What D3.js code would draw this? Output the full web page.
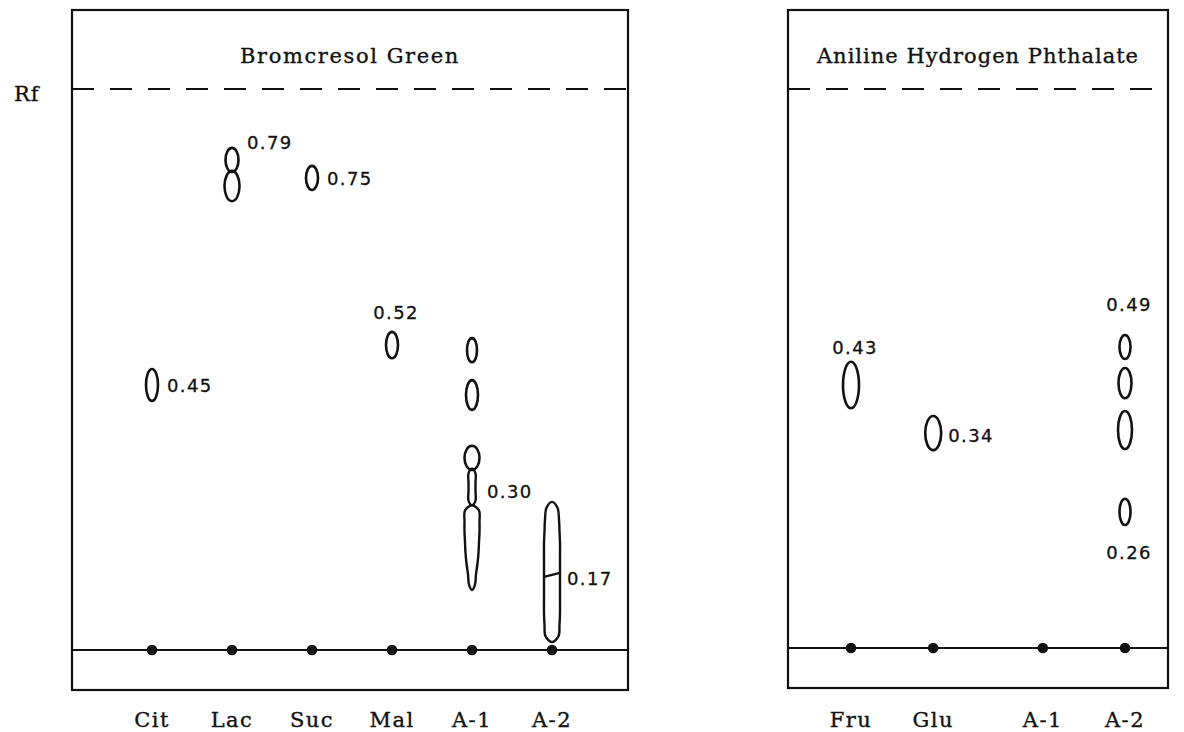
<!DOCTYPE html>
<html>
<head>
<meta charset="utf-8">
<script src="https://cdn.jsdelivr.net/npm/d3@7"></script>
<style>
  body { margin: 0; background: #fff; }
  .title, .lane, .rf-axis { font-family: "DejaVu Serif", serif; fill: #111; stroke: #111; stroke-width: 0.35px; }
  .num { font-family: "DejaVu Sans", sans-serif; fill: #111; stroke: #111; stroke-width: 0.3px; }
</style>
</head>
<body>
<div id="chart"></div>
<script>
// lanes on each plate
const leftLanes = ["Cit", "Lac", "Suc", "Mal", "A-1", "A-2"];
const rightLanes = ["Fru", "Glu", "A-1", "A-2"];

// spots as drawn: lane, lower and upper Rf of the outline
const leftSpots = [
    {lane: "Cit", lo: 0.444, hi: 0.501},
    {lane: "Lac", lo: 0.852, hi: 0.895},
    {lane: "Lac", lo: 0.800, hi: 0.854},
    {lane: "Suc", lo: 0.820, hi: 0.863},
    {lane: "Mal", lo: 0.520, hi: 0.567},
    {lane: "A-1", lo: 0.513, hi: 0.556},
    {lane: "A-1", lo: 0.428, hi: 0.481},
    {lane: "A-1", lo: 0.321, hi: 0.364}
];
// elongated streaks (tails)
const leftStreaks = [
    {lane: "A-1", lo: 0.258, hi: 0.323, kind: "neck"},
    {lane: "A-1", lo: 0.107, hi: 0.258, kind: "taper"},
    {lane: "A-2", lo: 0.014, hi: 0.264, kind: "band"}
];
// boundaries drawn across a streak
const leftSplits = [
    {lane: "A-2", at: 0.134}
];
const leftLabels = [
    {lane: "Cit", text: "0.45", at: 0.472, side: "right"},
    {lane: "Lac", text: "0.79", at: 0.904, side: "right"},
    {lane: "Suc", text: "0.75", at: 0.841, side: "right"},
    {lane: "Mal", text: "0.52", at: 0.602, side: "above"},
    {lane: "A-1", text: "0.30", at: 0.282, side: "right"},
    {lane: "A-2", text: "0.17", at: 0.128, side: "right"}
];

const rightSpots = [
    {lane: "Fru", lo: 0.429, hi: 0.512},
    {lane: "Glu", lo: 0.354, hi: 0.415},
    {lane: "A-2", lo: 0.517, hi: 0.560},
    {lane: "A-2", lo: 0.447, hi: 0.501},
    {lane: "A-2", lo: 0.356, hi: 0.424},
    {lane: "A-2", lo: 0.220, hi: 0.267}
];
const rightLabels = [
    {lane: "Fru", text: "0.43", at: 0.538, side: "above"},
    {lane: "Glu", text: "0.34", at: 0.381, side: "right"},
    {lane: "A-2", text: "0.49", at: 0.614, side: "above"},
    {lane: "A-2", text: "0.26", at: 0.170, side: "below"}
];

// half widths of the drawn outlines (px), same order as the spot arrays
const leftSpotW = [6, 6.5, 7.5, 6, 6, 5, 6, 7.5];
const rightSpotW = [8, 8, 5.5, 6.5, 7, 5.5];
const streakProfile = {
    neck: [3.5, 3.5, 3.5, 3.5],
    taper: [7, 7.5, 7.5, 7, 6.5, 5.5, 4, 3],
    band: [5.5, 7, 7.5, 8, 8, 8, 8, 8, 8, 8, 7.5, 6.5]
};

const width = 1184, height = 732;
const svg = d3.select("#chart").append("svg")
    .attr("width", width)
    .attr("height", height);

const ink = "#111";

// closed hand-drawn looking outline from a half-width profile
const blob = d3.line().curve(d3.curveCatmullRomClosed.alpha(0.5));
function outline(cx, yTop, yBot, hw) {
    let pts = [[cx, yTop]];
    let n = hw.length;
    hw.forEach((w, i) => pts.push([cx + w, yTop + (yBot - yTop) * (i + 0.5) / n]));
    pts.push([cx, yBot]);
    for (let i = n - 1; i >= 0; i--) pts.push([cx - hw[i], yTop + (yBot - yTop) * (i + 0.5) / n]);
    return blob(pts);
}

function drawPlate(cfg) {
    let g = svg.append("g");
    let y = d3.scaleLinear().domain([0, 1]).range([cfg.origin, cfg.front]);
    let x = cfg.x;

    // plate frame
    g.append("rect")
        .attr("x", cfg.left).attr("y", cfg.top)
        .attr("width", cfg.right - cfg.left).attr("height", cfg.bottom - cfg.top)
        .attr("fill", "none").attr("stroke", ink).attr("stroke-width", 2.2);

    g.append("text").attr("class", "title")
        .attr("x", (cfg.left + cfg.right) / 2).attr("y", 63)
        .attr("text-anchor", "middle")
        .style("font-size", "21px").style("letter-spacing", cfg.titleSpacing)
        .text(cfg.title);

    // solvent front
    g.append("line")
        .attr("x1", cfg.left).attr("x2", cfg.right)
        .attr("y1", y(1)).attr("y2", y(1))
        .attr("stroke", ink).attr("stroke-width", 1.8)
        .attr("stroke-dasharray", "22 16");

    // origin line
    g.append("line")
        .attr("x1", cfg.left).attr("x2", cfg.right)
        .attr("y1", y(0)).attr("y2", y(0))
        .attr("stroke", ink).attr("stroke-width", 2.2);

    g.selectAll(".dot").data(cfg.lanes).join("circle")
        .attr("cx", d => x(d)).attr("cy", y(0)).attr("r", 5.3)
        .attr("fill", ink);

    g.selectAll(".lane").data(cfg.lanes).join("text")
        .attr("class", "lane")
        .attr("x", d => x(d)).attr("y", 727)
        .attr("text-anchor", "middle")
        .style("font-size", "21px").style("letter-spacing", "1.5px")
        .text(d => d);

    // spots
    g.selectAll(".spot").data(cfg.spots).join("ellipse")
        .attr("cx", d => x(d.lane))
        .attr("cy", d => (y(d.lo) + y(d.hi)) / 2)
        .attr("rx", (d, i) => cfg.spotW[i])
        .attr("ry", d => (y(d.lo) - y(d.hi)) / 2)
        .attr("fill", "none").attr("stroke", ink).attr("stroke-width", 2.6);

    g.selectAll(".streak").data(cfg.streaks || []).join("path")
        .attr("d", d => outline(x(d.lane), y(d.hi), y(d.lo), streakProfile[d.kind]))
        .attr("fill", "none").attr("stroke", ink).attr("stroke-width", 2.4)
        .attr("stroke-linejoin", "round");

    g.selectAll(".split").data(cfg.splits || []).join("line")
        .attr("x1", d => x(d.lane) - 8).attr("x2", d => x(d.lane) + 8)
        .attr("y1", d => y(d.at) + 2).attr("y2", d => y(d.at) - 2)
        .attr("stroke", ink).attr("stroke-width", 2.4);

    // Rf values
    g.selectAll(".num").data(cfg.labels).join("text")
        .attr("class", "num")
        .attr("x", d => d.side === "right" ? x(d.lane) + 15 : x(d.lane) + 4)
        .attr("y", d => y(d.at))
        .attr("dy", "0.36em")
        .attr("text-anchor", d => d.side === "right" ? "start" : "middle")
        .style("font-size", "18px").style("letter-spacing", "1.4px")
        .text(d => d.text);
}

// left plate: evenly spaced lanes
let xLeft = d3.scalePoint().domain(leftLanes).range([152, 552]);
drawPlate({
    title: "Bromcresol Green", titleSpacing: "1.6px",
    left: 72, right: 628, top: 10, bottom: 690,
    origin: 650, front: 89,
    x: xLeft, lanes: leftLanes,
    spots: leftSpots, spotW: leftSpotW,
    streaks: leftStreaks, splits: leftSplits,
    labels: leftLabels
});

// right plate: wider gap between the standards and the samples
let rightGaps = [0, 3, 7, 10];
let slot = d3.scaleLinear().domain([0, 10]).range([851, 1125]);
let xRight = lane => slot(rightGaps[rightLanes.indexOf(lane)]);
drawPlate({
    title: "Aniline Hydrogen Phthalate", titleSpacing: "1px",
    left: 788, right: 1168, top: 10, bottom: 688,
    origin: 648, front: 89,
    x: xRight, lanes: rightLanes,
    spots: rightSpots, spotW: rightSpotW,
    labels: rightLabels
});

svg.append("text").attr("class", "rf-axis")
    .attr("x", 14).attr("y", 101)
    .style("font-size", "21px").style("letter-spacing", "1px")
    .text("Rf");
</script>
</body>
</html>
